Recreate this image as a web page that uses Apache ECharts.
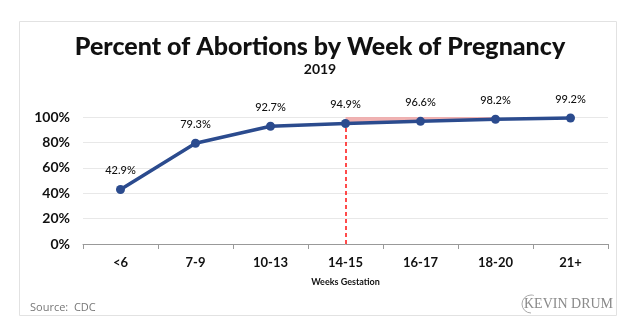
<!DOCTYPE html>
<html><head><meta charset="utf-8">
<script src="https://cdn.jsdelivr.net/npm/echarts@6/dist/echarts.min.js"></script>
<style>html,body{margin:0;padding:0;background:#fff}#c{width:640px;height:335px}</style>
</head><body><div id="c"></div>
<script>
const categories = ['<6','7-9','10-13','14-15','16-17','18-20','21+'];
const percents = [42.9, 79.3, 92.7, 94.9, 96.6, 98.2, 99.2];
const yTicks = [0, 20, 40, 60, 80, 100];
const highlightStart = 3, highlightEnd = 5;
const markerCategory = '14-15';

const base = percents.map((v,i)=> (i>=highlightStart && i<=highlightEnd) ? v : null);
const band = percents.map((v,i)=> (i>=highlightStart && i<=highlightEnd) ? 100 - v : null);

const chart = echarts.init(document.getElementById('c'), null, {renderer:'canvas'});
chart.setOption({
  animation:false,
  backgroundColor:'#fff',
  title:[
    {text:'Percent of Abortions by Week of Pregnancy', left:'center', top:29,
     textStyle:{fontFamily:'Lato', fontWeight:900, fontSize:25, color:'#111'}},
    {text:'2019', left:'center', top:57,
     textStyle:{fontFamily:'Lato', fontWeight:'bold', fontSize:14, color:'#111'}}
  ],
  grid:{left:83, right:32, top:117, bottom:91},
  xAxis:{type:'category', data:categories, boundaryGap:true,
    name:'Weeks Gestation', nameLocation:'middle', nameGap:34,
    nameTextStyle:{fontFamily:'Lato', fontWeight:'bold', fontSize:9, color:'#111'},
    axisLine:{lineStyle:{color:'#999', width:1}},
    axisTick:{show:true, length:5, lineStyle:{color:'#999'}},
    axisLabel:{fontFamily:'Lato', fontWeight:'bold', fontSize:13, color:'#111', margin:12}},
  yAxis:{type:'value', min:0, max:100, interval:20,
    axisLine:{show:false}, axisTick:{show:false},
    splitLine:{lineStyle:{color:'#e8e8e8'}},
    axisLabel:{fontFamily:'Lato', fontWeight:'bold', fontSize:14, color:'#111', margin:13,
      formatter: v => yTicks.includes(v) ? v + '%' : ''}},
  series:[
    {type:'line', data:base, stack:'hl', symbol:'none', lineStyle:{width:0}, silent:true, z:1},
    {type:'line', data:band, stack:'hl', symbol:'none', lineStyle:{width:0},
     areaStyle:{color:'#eeaaaa', opacity:0.9}, silent:true, z:1},
    {type:'line', data:percents, symbol:'circle', symbolSize:9, z:5,
     lineStyle:{color:'#2b4b8e', width:3.5}, itemStyle:{color:'#2b4b8e'},
     label:{show:true, position:'top', distance:9, formatter:p=>p.value.toFixed(1)+'%',
       fontFamily:'Lato', fontWeight:500, fontSize:11, color:'#111'},
     markLine:{symbol:'none', silent:true, label:{show:false},
       lineStyle:{color:'#ff1010', type:[4,3], width:1.5, opacity:1},
       data:[[{coord:[markerCategory,0]},{coord:[markerCategory,percents[categories.indexOf(markerCategory)]]}]]}}
  ],
  graphic:[
    {type:'rect', shape:{x:19.5, y:21.5, width:597, height:294}, style:{fill:null, stroke:'#e2e2e2', lineWidth:1}, z:-1},
    {type:'text', left:30, top:302, style:{text:'Source:  CDC', fontFamily:'Open Sans', fontSize:11, fill:'#777'}},
    {type:'text', left:524, top:297, style:{text:'KEVIN DRUM', fontFamily:'Liberation Serif', fontSize:14, fill:'#8a8a8a'}},
    {type:'arc', shape:{cx:531, cy:304, r:9, startAngle:Math.PI*0.5, endAngle:Math.PI*1.6}, style:{stroke:'#aaa', fill:null, lineWidth:1}}
  ]
});
</script></body></html>
